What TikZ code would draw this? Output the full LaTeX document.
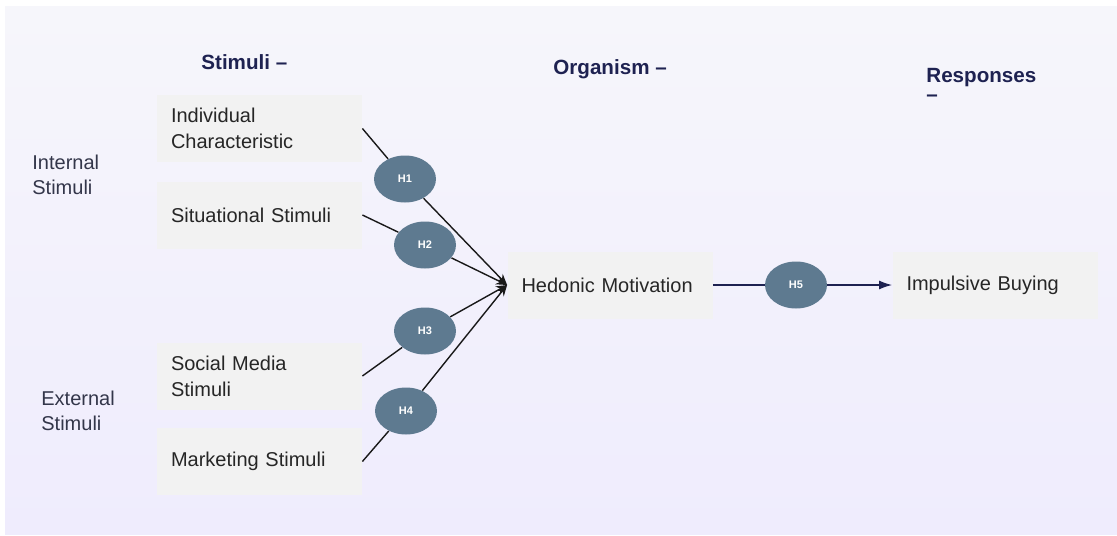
\documentclass[tikz,border=0pt]{standalone}
\usepackage{fontspec}
\setmainfont{Liberation Sans}
\usetikzlibrary{arrows.meta,positioning,shapes.geometric}
\definecolor{bgtop}{HTML}{F6F6FB}
\definecolor{bgbot}{HTML}{EFECFD}
\definecolor{boxgrey}{HTML}{F2F2F2}
\definecolor{hypblue}{HTML}{5E7A90}
\definecolor{navy}{HTML}{1E2251}
\definecolor{labgrey}{HTML}{33364A}

\begin{document}
\begin{tikzpicture}[x=0.5pt,y=-0.5pt,
  factor/.style={fill=boxgrey,minimum width=102.5pt,minimum height=33.5pt,
                 text width=88.5pt,inner xsep=7pt,inner ysep=0pt,align=left,
                 text=black!85,font=\fontsize{10}{13}\selectfont},
  hyp/.style={ellipse,fill=hypblue,minimum width=31pt,minimum height=23.5pt,
              inner sep=0pt,text=white,font=\fontsize{5.5}{6}\bfseries\selectfont},
  head/.style={text=navy,inner sep=0pt,align=left,
               font=\fontsize{10.3}{9.5}\bfseries\selectfont},
  side/.style={text=labgrey,inner sep=0pt,align=left,
               font=\fontsize{10}{12.8}\selectfont},
  link/.style={black!90,line width=0.7pt},
  >={Stealth[length=5.5pt,width=4.5pt]}]

\useasboundingbox (0,0) rectangle (1117,535);
\shade[top color=bgtop,bottom color=bgbot] (5,7) rectangle (1117,534);

% headings
\node[head,anchor=base west] (stim) at (201,70) {Stimuli --};
\node[head,anchor=base west] (org)  at (553,75) {Organism --};
\node[head,anchor=north west] (resp) at (926,68) {Responses\\--};

% side labels
\node[side,anchor=west] (int) at (32,175) {Internal\\Stimuli};
\node[side,anchor=west] (ext) at (41,411) {External\\Stimuli};

% stimuli
\node[factor] (ic) at (259.5,128.5) {Individual\\Characteristic};
\node[factor] (ss) at (259.5,215)   {Situational Stimuli};
\node[factor] (sm) at (259.5,376)   {Social Media\\Stimuli};
\node[factor] (ms) at (259.5,461.5) {Marketing Stimuli};

% organism and response
\node[factor] (hm) at (610,285) {Hedonic Motivation};
\node[factor] (ib) at (995,285) {Impulsive Buying};

% hypotheses
\node[hyp] (h1) at (405,179) {H1};
\node[hyp] (h2) at (425,245) {H2};
\node[hyp] (h3) at (425,331) {H3};
\node[hyp] (h4) at (406,411) {H4};
\node[hyp] (h5) at (796,285) {H5};

\draw[link] (ic.east) -- (h1);
\draw[link] (ss.east) -- (h2);
\draw[link] (sm.east) -- (h3);
\draw[link] (ms.east) -- (h4);
\draw[link,->] (h1) -- (hm.west);
\draw[link,->] (h2) -- (hm.west);
\draw[link,->] (h3) -- (hm.west);
\draw[link,->] (h4) -- (hm.west);

\draw[navy,line width=0.7pt] (hm.east) -- (h5);
\draw[navy,line width=0.7pt,-{Latex[length=6.5pt,width=4.5pt]}] (h5) -- (ib.west);
\end{tikzpicture}
\end{document}
